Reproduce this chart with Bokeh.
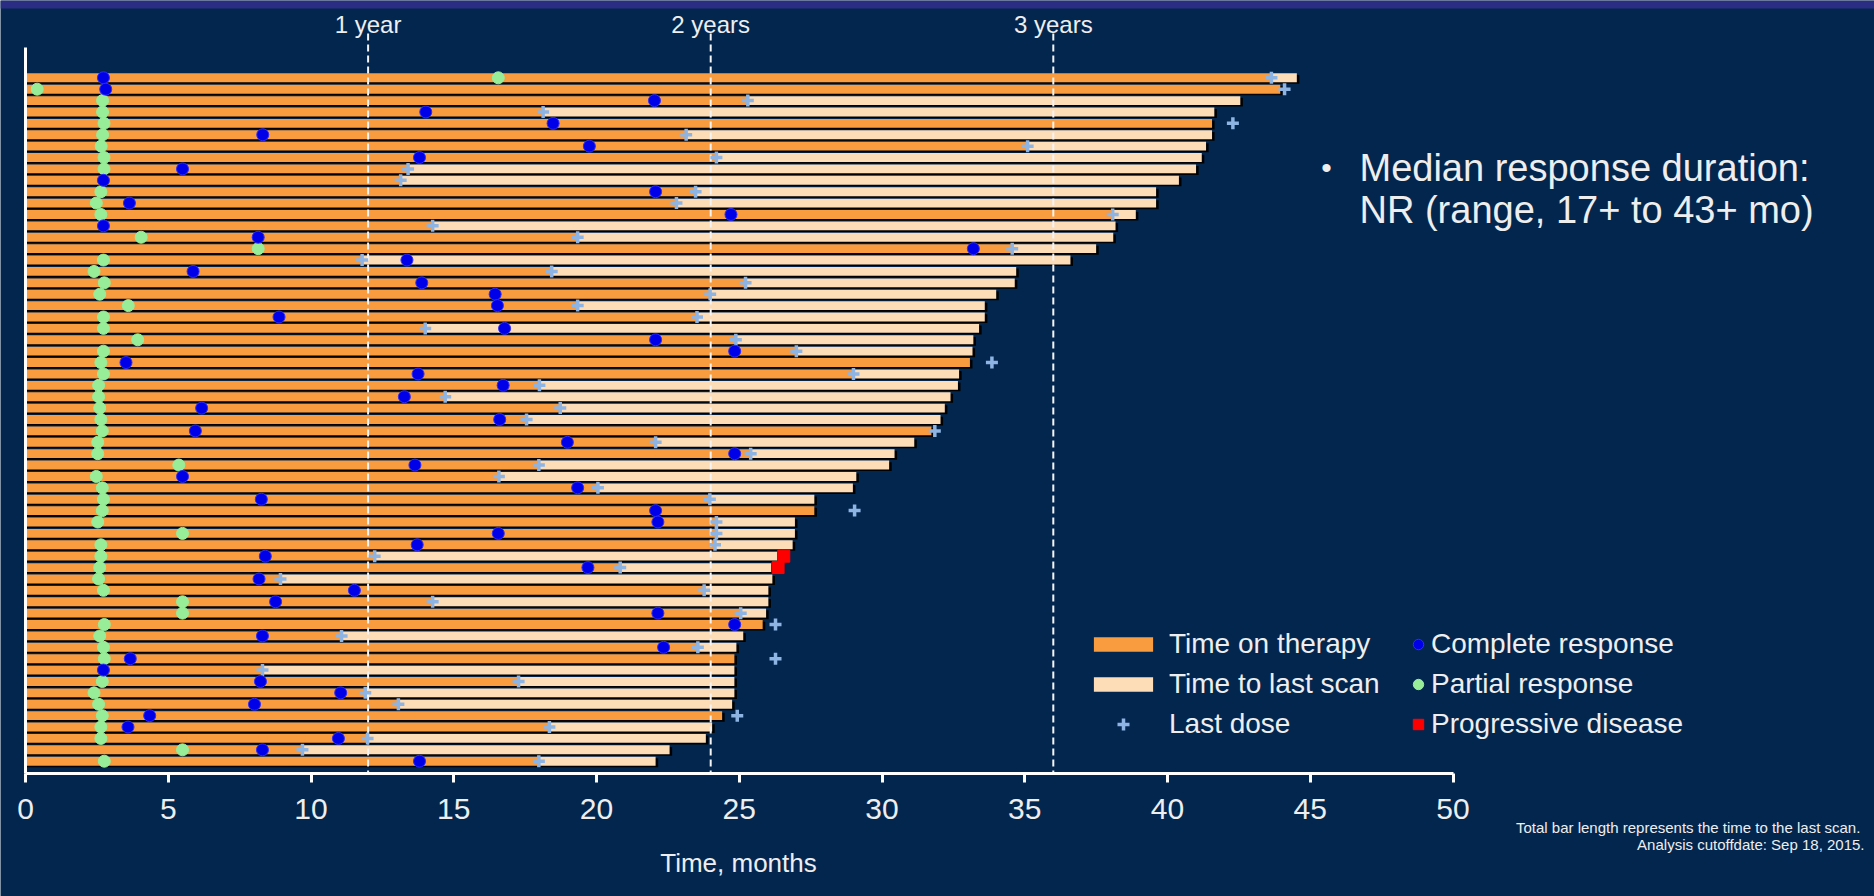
from bokeh.plotting import figure
from bokeh.models import (Range1d, LinearAxis, FixedTicker, Label, Legend,
                          LegendItem, ColumnDataSource, BoxAnnotation)
from bokeh.core.properties import value
from bokeh.embed import file_html
from bokeh.resources import INLINE

# ---------------- data (months) ----------------
last_scan = [44.53, 43.95, 42.55, 41.64, 41.56, 41.56, 41.35, 41.20, 41.00, 40.40,
             39.60, 39.60, 38.89, 38.18, 38.10, 37.50, 36.60, 34.70, 34.65, 34.00,
             33.60, 33.60, 33.40, 33.20, 33.17, 33.08, 32.70, 32.66, 32.40, 32.20,
             32.05, 31.73, 31.13, 30.44, 30.25, 29.10, 28.98, 27.63, 27.63, 26.95,
             26.95, 26.87, 26.33, 26.12, 26.16, 26.02, 26.02, 25.94, 25.82, 25.14,
             24.90, 24.83, 24.83, 24.83, 24.83, 24.75, 24.40, 24.05, 23.83, 22.56,
             22.07]
time_on_therapy = [43.64, 43.95, 25.30, 18.13, 41.56, 23.14, 35.10, 24.20, 13.40, 13.14,
                   23.47, 22.80, 38.08, 14.26, 19.34, 34.56, 11.79, 18.43, 25.22, 23.98,
                   19.34, 23.52, 14.00, 24.88, 27.00, 33.08, 29.00, 18.00, 14.70, 18.73,
                   17.55, 31.73, 22.07, 25.40, 17.98, 16.58, 20.05, 23.97, 27.63, 24.20,
                   24.20, 24.15, 12.23, 20.83, 8.93, 23.77, 14.26, 25.05, 25.82, 11.07,
                   23.55, 24.83, 8.30, 17.27, 11.90, 13.06, 24.40, 18.35, 11.98, 9.70,
                   17.98]
last_dose = [43.64, 44.10, 25.30, 18.13, 42.29, 23.14, 35.10, 24.20, 13.40, 13.14,
             23.47, 22.80, 38.08, 14.26, 19.34, 34.56, 11.79, 18.43, 25.22, 23.98,
             19.34, 23.52, 14.00, 24.88, 27.00, 33.85, 29.00, 18.00, 14.70, 18.73,
             17.55, 31.85, 22.07, 25.40, 17.98, 16.58, 20.05, 23.97, 29.04, 24.20,
             24.20, 24.15, 12.23, 20.83, 8.93, 23.77, 14.26, 25.05, 26.27, 11.07,
             23.55, 26.27, 8.30, 17.27, 11.90, 13.06, 24.93, 18.35, 11.98, 9.70,
             17.98]
complete_response = [2.73, 2.81, 22.03, 14.02, 18.48, 8.31, 19.75, 13.80, 5.50, 2.73,
                     22.07, 3.64, 24.71, 2.73, 8.15, 33.20, 13.36, 5.87, 13.88, 16.45,
                     16.53, 8.88, 16.78, 22.07, 24.84, 3.52, 13.75, 16.73, 13.27, 6.17,
                     16.61, 5.95, 18.98, 24.84, 13.64, 5.50, 19.34, 8.26, 22.07, 22.15,
                     16.56, 13.72, 8.40, 19.70, 8.18, 11.52, 8.76, 22.15, 24.84, 8.30,
                     22.35, 3.67, 2.73, 8.23, 11.04, 8.02, 4.35, 3.59, 10.96, 8.30,
                     13.80]
pr_patient = [1, 2, 3, 4, 5, 6, 7, 8, 9, 11, 12, 13, 15, 16, 17, 18, 19, 20, 21, 22,
              23, 24, 25, 26, 27, 28, 29, 30, 31, 32, 33, 34, 35, 36, 37, 38, 39, 40,
              41, 42, 43, 44, 45, 46, 47, 48, 49, 50, 51, 52, 54, 55, 56, 57, 58, 59,
              60, 61]
partial_response = [16.56, 0.41, 2.70, 2.70, 2.75, 2.70, 2.65, 2.75, 2.75, 2.64, 2.48,
                    2.64, 4.05, 8.15, 2.73, 2.40, 2.76, 2.60, 3.60, 2.73, 2.73, 3.93,
                    2.73, 2.64, 2.73, 2.56, 2.56, 2.60, 2.64, 2.69, 2.53, 2.53, 5.37,
                    2.48, 2.69, 2.73, 2.69, 2.53, 5.50, 2.64, 2.64, 2.60, 2.56, 2.73,
                    5.50, 5.50, 2.76, 2.60, 2.73, 2.76, 2.69, 2.40, 2.56, 2.69, 2.64,
                    2.64, 5.50, 2.76]
pd_patient = [43, 44]
progressive_disease = [26.56, 26.36]
patients = list(range(1, len(last_scan) + 1))
milestones = [12, 24, 36]
milestone_labels = ["1 year", "2 years", "3 years"]
x_ticks = [0, 5, 10, 15, 20, 25, 30, 35, 40, 45, 50]

# ---------------- style ----------------
BG = "#03264f"
BAND = "#2b2c83"
ORANGE = "#f99b3f"
PEACH = "#fddcb8"
CR_C = "#0000e8"
PR_C = "#98ee98"
DOSE_C = "#8db4e2"
PD_C = "#ff0000"
TXT = "#eeeeee"
FONT = "Liberation Sans"

W, H = 1874, 896
ORIGIN_PX = 25
PX_MONTH = 28.55
ROW1_PX, ROW_PX = 77.3, 11.39


def fx(px):  # page pixel -> month
    return (px - ORIGIN_PX) / PX_MONTH


def fy(py):  # page pixel -> row
    return 1 + (py - ROW1_PX) / ROW_PX


AXIS_Y = fy(773)

p = figure(width=W, height=H, output_backend="svg", toolbar_location=None,
           x_range=Range1d(fx(0), fx(W)),
           y_range=Range1d(fy(H), fy(0)),
           x_axis_location=None, y_axis_location=None,
           min_border=0,
           background_fill_color=BG, border_fill_color=BG, outline_line_color=None)
for g in p.grid:
    g.visible = False

p.add_layout(BoxAnnotation(top=fy(0), bottom=fy(8), fill_color=BAND, fill_alpha=1,
                           line_color=None, level="underlay"))

src = ColumnDataSource(dict(
    y=patients, scan=last_scan, therapy=time_on_therapy,
    sy=[r + 0.14 for r in patients], sr=[s + 0.09 for s in last_scan]))

BAR_H = 0.78
p.hbar(y="sy", left=0, right="sr", height=BAR_H, source=src,
       fill_color="black", line_color=None)
peach_r = p.hbar(y="y", left="therapy", right="scan", height=BAR_H, source=src,
                 fill_color=PEACH, line_color=None)
orange_r = p.hbar(y="y", left=0, right="therapy", height=BAR_H, source=src,
                  fill_color=ORANGE, line_color=None)

# milestone dashed lines
p.segment(x0=milestones, x1=milestones, y0=[fy(33)] * 3, y1=[AXIS_Y] * 3,
          line_color="#f4f4f4", line_width=2, line_dash="7 4")
p.text(x=milestones, y=[fy(24)] * 3, text=milestone_labels, text_align="center",
       text_baseline="middle", text_color=TXT, text_font=value(FONT),
       text_font_size="24px")

dose_r = p.scatter(x=last_dose, y=patients, marker="cross", size=12,
                   line_width=3.5, line_color=DOSE_C)
pr_r = p.scatter(x=partial_response, y=pr_patient, marker="circle", size=12,
                 fill_color=PR_C, line_color=PR_C)
cr_r = p.scatter(x=complete_response, y=patients, marker="circle", size=12,
                 fill_color=CR_C, line_color="#2b2bff")
pd_r = p.scatter(x=progressive_disease, y=pd_patient, marker="square", size=12,
                 fill_color=PD_C, line_color=PD_C)

# axes (drawn at fixed data positions inside the frame)
xaxis = LinearAxis(ticker=FixedTicker(ticks=x_ticks), bounds=(0, 50),
                   fixed_location=AXIS_Y,
                   axis_line_color="white", axis_line_width=3,
                   major_tick_line_color="white", major_tick_line_width=3,
                   major_tick_out=9, major_tick_in=0, minor_tick_out=0, minor_tick_in=0,
                   major_label_text_color=TXT, major_label_text_font=FONT,
                   major_label_text_font_size="30px", major_label_standoff=16)
p.add_layout(xaxis, "below")
yaxis = LinearAxis(ticker=FixedTicker(ticks=[]), bounds=(fy(47), AXIS_Y),
                   fixed_location=0,
                   axis_line_color="white", axis_line_width=3,
                   major_tick_out=0, major_tick_in=0, minor_tick_out=0, minor_tick_in=0,
                   major_label_text_font_size="0px", major_label_standoff=0)
p.add_layout(yaxis, "left")


# texts
def lab(txt, x, y, size, align="left"):
    p.add_layout(Label(x=fx(x), y=fy(y), text=txt, text_align=align,
                       text_baseline="middle", text_color=TXT, text_font=FONT,
                       text_font_size=size))


lab("\u2022", 1326, 167, "30px", align="center")
lab("Median response duration:", 1359, 167, "38px")
lab("NR (range, 17+ to 43+ mo)", 1359, 209, "38px")
lab("Time, months", 738, 862, "26px", align="center")
lab("Total bar length  represents the time to the last scan.", 1864, 827, "15px",
    align="right")
lab("Analysis cutoffdate: Sep 18, 2015.", 1864, 844, "15px", align="right")

# legends
common = dict(background_fill_alpha=0, border_line_alpha=0, padding=0, margin=0,
              spacing=8, label_text_font_size="28px", label_text_color=TXT,
              label_text_font=FONT, label_height=20)
leg1 = Legend(items=[LegendItem(label="Time on therapy", renderers=[orange_r]),
                     LegendItem(label="Time to last scan", renderers=[peach_r])],
              location=(1086, 196), glyph_width=74, glyph_height=18,
              label_standoff=9, **common)
leg3 = Legend(items=[LegendItem(label="Last dose", renderers=[dose_r])],
              location=(1086, 156), glyph_width=74, glyph_height=30,
              label_standoff=9, **common)
leg2 = Legend(items=[LegendItem(label="Complete response", renderers=[cr_r]),
                     LegendItem(label="Partial response", renderers=[pr_r]),
                     LegendItem(label="Progressive disease", renderers=[pd_r])],
              location=(1405, 156), glyph_width=26, glyph_height=30,
              label_standoff=0, **common)
p.add_layout(leg1)
p.add_layout(leg3)
p.add_layout(leg2)

open("out.html", "w").write(file_html(p, INLINE))
